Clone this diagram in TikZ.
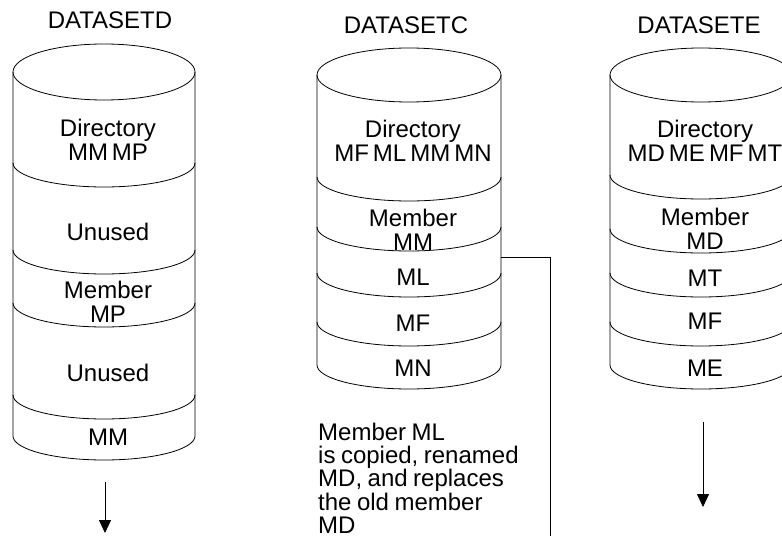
\documentclass[tikz,border=0pt]{standalone}
\usepackage{fontspec}
\setmainfont{Liberation Sans}
\usetikzlibrary{arrows.meta}
\newcommand{\lblfont}{\fontsize{24}{24}\selectfont\spaceskip=4pt plus 1pt\relax}
\newcommand{\notefont}{\fontsize{24}{23.2}\selectfont\spaceskip=5.5pt plus 1pt\relax}
\newcommand{\drawcyl}[6]{% cx, rx, top y, top ry, bottom y, separators
  \draw[cylline] (#1,-#3) ellipse[x radius=#2, y radius=#4];
  \draw[cylline] (#1-#2,-#3) -- (#1-#2,-#5) arc[start angle=180,end angle=360,x radius=#2,y radius=24] -- (#1+#2,-#3);
  \foreach \s in {#6} \draw[cylline] (#1-#2,-\s) arc[start angle=180,end angle=360,x radius=#2,y radius=24];
}
\begin{document}
\begin{tikzpicture}[x=1pt,y=1pt,
  cylline/.style={draw=black,line width=0.8pt},
  lbl/.style={font=\lblfont,align=center,inner sep=0pt},
  conn/.style={draw=black,line width=0.8pt},
  arr/.style={draw=black,line width=0.8pt,-{Triangle[width=12pt,length=13pt]}}]
\useasboundingbox (0,0) rectangle (782,-537);
\clip (0,0) rectangle (782,-537);
% titles
\node[lbl] (tD) at (110,-20) {DATASETD};
\node[lbl] (tC) at (406,-25) {DATASETC};
\node[lbl] (tE) at (699,-25) {DATASETE};
% cylinders
\drawcyl{104}{91}{72}{28}{436}{163,250,303,395}
\drawcyl{409}{92}{75}{27}{365}{177,227,273,322}
\drawcyl{701}{91}{75}{27}{365}{175,229,273,322}
% left labels
\node[lbl] (dD) at (108,-140) {Directory\\MM MP};
\node[lbl] (u1) at (108,-232) {Unused};
\node[lbl] (mMP) at (108,-302) {Member\\MP};
\node[lbl] (u2) at (108,-373) {Unused};
\node[lbl] (mMM) at (108,-437) {MM};
% middle labels
\node[lbl] (dC) at (413,-141) {Directory\\MF ML MM MN};
\node[lbl] (cMM) at (413,-230) {Member\\MM};
\node[lbl] (cML) at (413,-277) {ML};
\node[lbl] (cMF) at (413,-323) {MF};
\node[lbl] (cMN) at (413,-368) {MN};
% right labels
\node[lbl] (dE) at (705,-141) {Directory\\MD ME MF MT};
\node[lbl] (eMD) at (705,-229) {Member\\MD};
\node[lbl] (eMT) at (705,-278) {MT};
\node[lbl] (eMF) at (705,-321) {MF};
\node[lbl] (eME) at (705,-368) {ME};
% note
\node[font=\notefont,align=left,anchor=north west,inner sep=0pt] (note) at (318,-423)
  {Member ML\\is copied, renamed\\MD, and replaces\\the old member\\MD};
% connector
\coordinate (cA) at (501,-257);
\coordinate (cB) at (550,-257);
\coordinate (cC) at (550,-536);
\draw[conn] (cA) -- (cB) -- (cC);
% arrows
\coordinate (aL1) at (105,-482);
\coordinate (aL2) at (105,-533);
\draw[arr] (aL1) -- (aL2);
\coordinate (aR1) at (703,-422);
\coordinate (aR2) at (703,-507);
\draw[arr] (aR1) -- (aR2);
\end{tikzpicture}
\end{document}
